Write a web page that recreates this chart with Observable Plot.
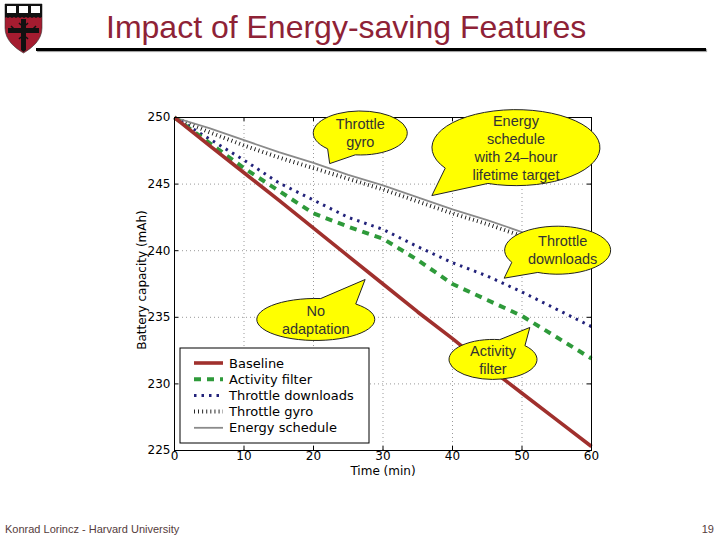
<!DOCTYPE html>
<html>
<head>
<meta charset="utf-8">
<script src="https://cdn.jsdelivr.net/npm/d3@7"></script>
<script src="https://cdn.jsdelivr.net/npm/@observablehq/plot@0.6"></script>
<style>
  html, body { margin: 0; padding: 0; background: #fff; }
  #slide { position: relative; width: 720px; height: 540px; overflow: hidden; background: #fff; font-family: "Liberation Sans", Arial, sans-serif; }
  #chart { position: absolute; left: 0; top: 0; }
  #title { position: absolute; left: 106px; top: 11px; font-size: 32px; line-height: 32px; color: #8E2236; white-space: nowrap; }
  #rule { position: absolute; left: 36px; top: 48px; width: 670px; height: 3px; background: #000; box-shadow: 1px 1px 1px #999; }
  #logo { position: absolute; left: 3px; top: 3px; }
  #footer { position: absolute; left: 5px; top: 524px; font-size: 11px; line-height: 11px; color: #553c3c; white-space: nowrap; }
  #page { position: absolute; right: 6px; top: 524px; font-size: 11px; line-height: 11px; color: #553c3c; }
</style>
</head>
<body>
<div id="slide">
  <div id="chart"></div>
  <svg id="logo" width="42" height="52" viewBox="0 0 42 52">
    <path d="M2,1 H39 V25 C39,37 29,45 20.5,50 C12,45 2,37 2,25 Z" fill="#A51C30" stroke="#333" stroke-width="0.6"/>
    <rect x="2" y="1" width="37" height="11" fill="#111"/>
    <rect x="4" y="3" width="9" height="7" fill="#fff"/>
    <rect x="16" y="3" width="9" height="7" fill="#fff"/>
    <rect x="28" y="3" width="9" height="7" fill="#fff"/>
    <path d="M2,12 H39 V14 L37,15 L35,14 L33,15 L31,14 L29,15 L27,14 L25,15 L23,14 L21,15 L19,14 L17,15 L15,14 L13,15 L11,14 L9,15 L7,14 L5,15 L3,14 L2,15 Z" fill="#111"/>
    <path d="M18,16 H23 V25 H36 V30 H23 V47 L20.5,49 L18,47 V30 H5 V25 H18 Z" fill="#111"/>
    <path d="M8,23 l2,2 l-2,2 M33,23 l-2,2 l2,2 M16,20 l2,2 M25,20 l-2,2 M16,36 l2,-2 M25,36 l-2,-2" stroke="#111" stroke-width="1.5" fill="none"/>
  </svg>
  <div id="title">Impact of Energy-saving Features</div>
  <div id="rule"></div>
  <div id="footer">Konrad Lorincz - Harvard University</div>
  <div id="page">19</div>
</div>
<script>
// ---- data ----
const times = [0, 5, 10, 15, 20, 25, 30, 35, 40, 45, 50, 55, 60];
const baseline = [250, 247.9, 245.85, 243.8, 241.7, 239.6, 237.5, 235.4, 233.4, 231.3, 229.3, 227.3, 225.3];
const activityFilter = [250, 248.1, 246.2, 244.5, 242.8, 241.8, 240.9, 239.3, 237.5, 236.3, 235.1, 233.5, 231.9];
const throttleDownloads = [250, 248.4, 246.8, 245.1, 243.8, 242.5, 241.6, 240.3, 239.1, 238.1, 236.9, 235.6, 234.3];
const throttleGyro = [250, 248.9, 247.9, 247.0, 246.2, 245.4, 244.6, 243.7, 242.8, 242.0, 241.1, 240.3, 239.5];
const energySchedule = [250, 249.2, 248.3, 247.4, 246.6, 245.7, 244.9, 244.0, 243.1, 242.3, 241.4, 240.6, 239.8];

const seriesNames = ["Baseline", "Activity filter", "Throttle downloads", "Throttle gyro", "Energy schedule"];
const xTicks = [0, 10, 20, 30, 40, 50, 60];
const yTicks = [225, 230, 235, 240, 245, 250];

const calloutTexts = [
  ["Throttle", "gyro"],
  ["Energy", "schedule", "with 24\u2013hour", "lifetime target"],
  ["Throttle", "downloads"],
  ["No", "adaptation"],
  ["Activity", "filter"]
];

// ---- styles / layout (kept separate from data) ----
const styles = {
  "Baseline": {stroke: "#A0302D", strokeWidth: 3.6, dash: null},
  "Activity filter": {stroke: "#2E9A3A", strokeWidth: 4, dash: "7,6"},
  "Throttle downloads": {stroke: "#22227A", strokeWidth: 3, dash: "2.5,5"},
  "Throttle gyro": {stroke: "#111", strokeWidth: 4, dash: "0.9,3.2"},
  "Energy schedule": {stroke: "#8a8a8a", strokeWidth: 1.8, dash: null}
};
// callout anchors in data coordinates, radii in px
const calloutLayout = [
  {cx: 26.8, cy: 248.8, rx: 47, ry: 22, tx: 22.4, ty: 246.5, dx: 0},
  {cx: 49.2, cy: 247.7, rx: 84, ry: 38, tx: 37.1, ty: 244.1, dx: 0},
  {cx: 55.2, cy: 240.0, rx: 53, ry: 24, tx: 47.5, ty: 237.9, dx: 5},
  {cx: 20.4, cy: 234.8, rx: 59, ry: 21, tx: 27.5, ty: 237.8, dx: 0},
  {cx: 45.9, cy: 231.8, rx: 44, ry: 20, tx: 51.2, ty: 234.2, dx: 0}
];

const valuesBySeries = [baseline, activityFilter, throttleDownloads, throttleGyro, energySchedule];
const rows = [];
seriesNames.forEach((name, i) => times.forEach((t, j) => rows.push({series: name, time: t, mAh: valuesBySeries[i][j]})));

function lineMark(name) {
  const s = styles[name];
  return Plot.line(rows.filter(d => d.series === name), {
    x: "time", y: "mAh", stroke: s.stroke, strokeWidth: s.strokeWidth,
    strokeDasharray: s.dash, strokeLinecap: "butt", strokeLinejoin: "round", curve: "linear"
  });
}

function callouts(index, scales) {
  const g = d3.create("svg:g");
  calloutLayout.forEach((c, i) => {
    const X = scales.x(c.cx), Y = scales.y(c.cy);
    const TX = scales.x(c.tx), TY = scales.y(c.ty);
    const th = Math.atan2((TY - Y) / c.ry, (TX - X) / c.rx);
    const d = 0.33;
    const p = a => [X + c.rx * Math.cos(a), Y + c.ry * Math.sin(a)];
    const [x1, y1] = p(th + d), [x2, y2] = p(th - d);
    g.append("path")
      .attr("d", `M${x1},${y1} A${c.rx},${c.ry} 0 1 1 ${x2},${y2} L${TX},${TY} Z`)
      .attr("fill", "#FFFF00").attr("stroke", "#222").attr("stroke-width", 1);
    const lines = calloutTexts[i];
    const lh = 18;
    lines.forEach((t, k) => {
      g.append("text")
        .attr("x", X + c.dx)
        .attr("y", Y + (k - (lines.length - 1) / 2) * lh)
        .attr("dy", "0.36em")
        .attr("text-anchor", "middle")
        .attr("font-family", "'Liberation Sans', Arial, sans-serif")
        .attr("font-size", 14.5)
        .attr("fill", "#333")
        .text(t);
    });
  });
  return g.node();
}

function legend(index, scales, values, dim) {
  const g = d3.create("svg:g").attr("text-anchor", "start");
  const left = dim.marginLeft + 6;
  const bottom = dim.height - dim.marginBottom - 7;
  const w = 189, h = 95;
  g.append("rect").attr("x", left).attr("y", bottom - h).attr("width", w).attr("height", h)
    .attr("fill", "#fff").attr("stroke", "#000").attr("stroke-width", 1);
  seriesNames.forEach((name, i) => {
    const s = styles[name];
    const yy = bottom - h + 15 + i * 16.2;
    const ln = g.append("line").attr("x1", left + 14).attr("x2", left + 43)
      .attr("y1", yy).attr("y2", yy)
      .attr("stroke", s.stroke).attr("stroke-width", s.strokeWidth);
    if (s.dash) ln.attr("stroke-dasharray", s.dash);
    g.append("text").attr("x", left + 49).attr("y", yy).attr("dy", "0.35em")
      .attr("text-anchor", "start")
      .attr("font-family", "'DejaVu Sans', sans-serif").attr("font-size", 13).attr("fill", "#000")
      .text(name);
  });
  return g.node();
}

const chart = Plot.plot({
  width: 720,
  height: 540,
  marginLeft: 174,
  marginRight: 129,
  marginTop: 117,
  marginBottom: 90,
  style: {fontFamily: "'DejaVu Sans', sans-serif", fontSize: "12px", background: "transparent", overflow: "visible", color: "#000"},
  x: {domain: [0, 60]},
  y: {domain: [225, 250]},
  marks: [
    Plot.gridX(xTicks, {stroke: "#999", strokeOpacity: 1, strokeDasharray: "1,3"}),
    Plot.gridY(yTicks, {stroke: "#999", strokeOpacity: 1, strokeDasharray: "1,3"}),
    Plot.ruleX(xTicks, {x: d => d, y1: 225, y2: 225.3, stroke: "#000"}),
    Plot.ruleX(xTicks, {x: d => d, y1: 249.7, y2: 250, stroke: "#000"}),
    Plot.ruleY(yTicks, {y: d => d, x1: 0, x2: 0.6, stroke: "#000"}),
    Plot.ruleY(yTicks, {y: d => d, x1: 59.4, x2: 60, stroke: "#000"}),
    lineMark("Throttle gyro"),
    lineMark("Energy schedule"),
    lineMark("Throttle downloads"),
    lineMark("Activity filter"),
    lineMark("Baseline"),
    Plot.frame({stroke: "#000", strokeWidth: 1}),
    Plot.axisX(xTicks, {tickSize: 0, tickPadding: 1, fontSize: 12, label: null}),
    Plot.axisY(yTicks, {tickSize: 0, tickPadding: 4, fontSize: 12, label: null}),
    Plot.text(["Time (min)"], {frameAnchor: "bottom", textAnchor: "middle", dy: 24, fontSize: 12, fill: "#000"}),
    Plot.text(["Battery capacity (mAh)"], {frameAnchor: "left", textAnchor: "middle", rotate: -90, dx: -32, dy: -4, fontSize: 12, fill: "#000"}),
    legend,
    callouts
  ]
});
document.getElementById("chart").appendChild(chart);
</script>
</body>
</html>
